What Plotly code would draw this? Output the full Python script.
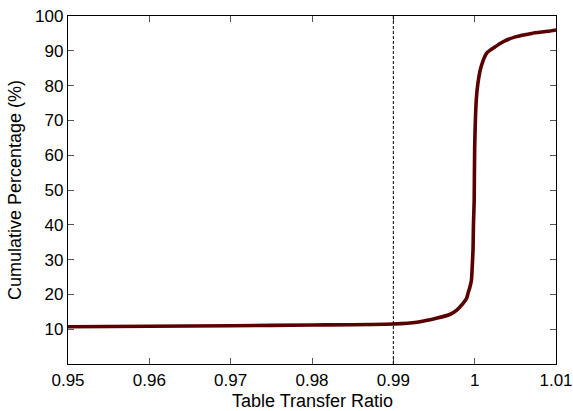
import plotly.graph_objects as go

ratio = [0.95, 0.96, 0.97, 0.98, 0.99, 0.9929, 0.9954, 0.9970, 0.9978, 0.9986,
         0.9990, 0.9992, 0.9994, 0.9996, 0.9997, 0.9998, 0.99985, 0.99994, 1.0000,
         1.0002, 1.0004, 1.0008, 1.0015, 1.0023, 1.0035, 1.0050, 1.0070, 1.0090, 1.0100]
cum_pct = [10.7, 10.85, 11.0, 11.2, 11.5, 12.0, 13.2, 14.3, 15.5, 17.5,
           18.8, 20.5, 22.0, 24.1, 28.0, 33.0, 40.0, 47.0, 62.0,
           76.0, 80.7, 85.5, 89.4, 90.8, 92.6, 94.0, 95.0, 95.6, 96.0]

x_ticks = [0.95, 0.96, 0.97, 0.98, 0.99, 1.0, 1.01]
x_ticktext = ["0.95", "0.96", "0.97", "0.98", "0.99", "1", "1.01"]
y_ticks = [10, 20, 30, 40, 50, 60, 70, 80, 90, 100]
threshold = 0.99
x_title = "Table Transfer Ratio"
y_title = "Cumulative Percentage (%)"

FONT = "Liberation Sans, Arial, sans-serif"

fig = go.Figure()
fig.add_trace(go.Scatter(x=ratio, y=cum_pct, mode="lines",
                         line=dict(color="#5a0000", width=3.6, shape="spline", smoothing=0.6),
                         showlegend=False, hoverinfo="skip"))
fig.add_shape(type="line", x0=threshold, x1=threshold, y0=0, y1=100, xref="x", yref="y",
              line=dict(color="black", width=1, dash="3px,2px"))

axis_common = dict(showgrid=False, zeroline=False, showline=True, linecolor="black", linewidth=1.3,
                   mirror="ticks", ticks="inside", ticklen=6, tickcolor="#555", tickwidth=1,
                   automargin=False,
                   tickfont=dict(family=FONT, size=17, color="black"))
fig.update_xaxes(range=[0.95, 1.01], tickvals=x_ticks, ticktext=x_ticktext, **axis_common)
fig.update_yaxes(range=[0, 100], tickvals=y_ticks, **axis_common)

fig.add_annotation(text=x_title, xref="paper", yref="paper", x=0.5, y=0, yshift=-37,
                   xanchor="center", yanchor="middle", showarrow=False,
                   font=dict(family=FONT, size=18, color="black"))
fig.add_annotation(text=y_title, xref="paper", yref="paper", x=0, y=0.5, xshift=-53,
                   xanchor="center", yanchor="middle", textangle=-90, showarrow=False,
                   font=dict(family=FONT, size=18, color="black"))

fig.update_layout(width=573, height=411, margin=dict(l=68, r=17, t=16, b=47),
                  plot_bgcolor="white", paper_bgcolor="white")
fig.write_html("out.html", config={"displayModeBar": False},
               post_script="document.body.style.margin='0';document.body.style.padding='0';document.body.style.overflow='hidden';")
